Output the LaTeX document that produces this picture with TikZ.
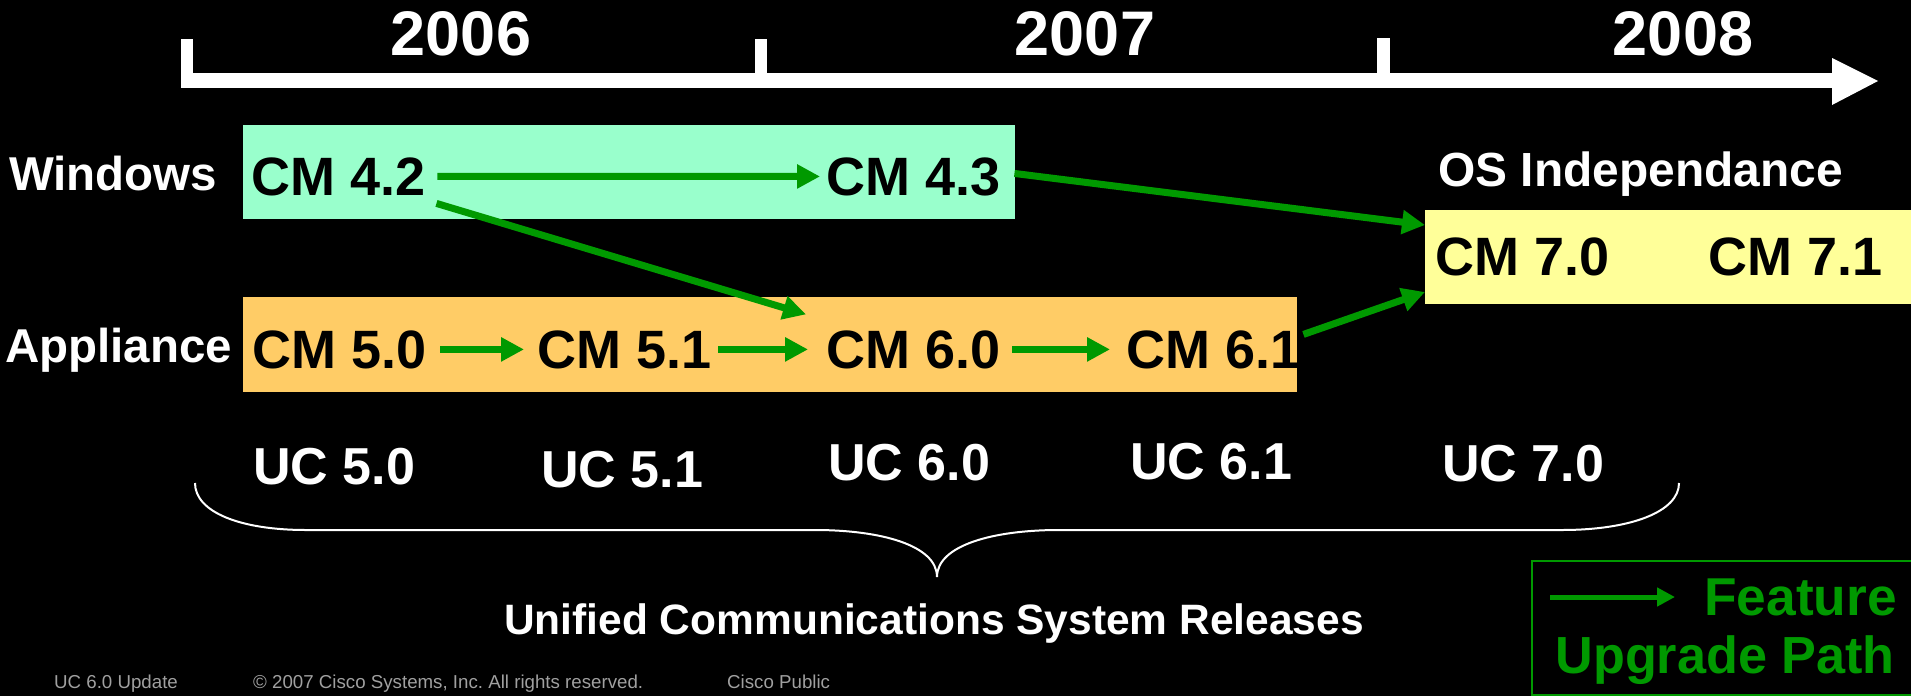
\documentclass[tikz,border=0pt]{standalone}
\usepackage{fontspec}
\setmainfont{Liberation Sans}
\usetikzlibrary{arrows.meta}
\definecolor{fgreen}{HTML}{009900}
\definecolor{winteal}{HTML}{99FFCC}
\definecolor{appor}{HTML}{FFCC66}
\definecolor{osyel}{HTML}{FFFF99}
\definecolor{footgray}{HTML}{A0A0A0}
\newcommand{\myfs}[1]{\fontsize{#1}{#1}\selectfont}
\tikzset{
  cmtext/.style={font=\myfs{54}\bfseries, text=black, inner sep=0pt, anchor=base west},
  uctext/.style={font=\myfs{52}\bfseries, text=white, inner sep=0pt, anchor=base west},
  yeartext/.style={font=\myfs{63}\bfseries, text=white, inner sep=0pt, anchor=base},
  rowlabel/.style={font=\myfs{47.5}\bfseries, text=white, inner sep=0pt, anchor=base west},
  footer/.style={font=\myfs{18.7}, text=footgray, inner sep=0pt, anchor=base west},
  band/.style={inner sep=0pt, outer sep=0pt, anchor=north west, draw=none},
  flow/.style={draw=fgreen, line width=7pt, -{Triangle[length=23pt,width=23pt]}},
  legflow/.style={draw=fgreen, line width=5pt, -{Triangle[length=18pt,width=18pt]}},
  legtext/.style={font=\myfs{53.3}\bfseries, text=fgreen, inner sep=0pt, anchor=base east},
  axisfill/.style={fill=white, draw=none},
  bracestyle/.style={draw=white, line width=2pt},
}
\begin{document}
\begin{tikzpicture}[x=1pt,y=-1pt]
  \useasboundingbox (0,0) rectangle (1911,696);
  \fill[black] (0,0) rectangle (1911,696);

  % timeline
  \fill[axisfill] (181,73) rectangle (1832,88);
  \fill[axisfill] (181,39) rectangle (193,88);
  \fill[axisfill] (755,39) rectangle (767,73);
  \fill[axisfill] (1377,38) rectangle (1390,73);
  \fill[axisfill] (1832,58) -- (1878,81) -- (1832,105) -- cycle;

  \node[yeartext] (y6) at (461,55) {2006};
  \node[yeartext] (y7) at (1085,55) {2007};
  \node[yeartext] (y8) at (1683,55) {2008};

  % bands
  \node[band, fill=winteal, minimum width=772pt, minimum height=94pt] (winbox) at (243,125) {};
  \node[band, fill=appor, minimum width=1054pt, minimum height=95pt] (appbox) at (243,297) {};
  \node[band, fill=osyel, minimum width=490pt, minimum height=94pt] (c7box) at (1425,210) {};

  % row labels
  \node[rowlabel] (win) at (9,190) {Windows};
  \node[rowlabel] (app) at (5,362) {Appliance};
  \node[font=\myfs{47.9}\bfseries, text=white, inner sep=0pt, anchor=base west] (osi) at (1438,186) {OS Independance};

  % CM versions
  \node[cmtext] (c42) at (251,195) {CM 4.2};
  \node[cmtext] (c43) at (826,195) {CM 4.3};
  \node[cmtext] (c50) at (252,368) {CM 5.0};
  \node[cmtext] (c51) at (537,368) {CM 5.1};
  \node[cmtext] (c60) at (826,368) {CM 6.0};
  \node[cmtext] (c61) at (1126,368) {CM 6.1};
  \node[cmtext] (c70) at (1435,275) {CM 7.0};
  \node[cmtext] (c71) at (1708,275) {CM 7.1};

  % upgrade arrows
  \draw[flow] ([shift={(12,0)}]c42.east) -- ([shift={(-6,0)}]c43.west);
  \draw[flow] ([shift={(11,27)}]c42.east) -- ([shift={(-20,-35)}]c60.west);
  \draw[flow] ([shift={(14,0)}]c50.east) -- ([shift={(-13,0)}]c51.west);
  \draw[flow] ([shift={(7,0)}]c51.east) -- ([shift={(-18,0)}]c60.west);
  \draw[flow] ([shift={(12,0)}]c60.east) -- ([shift={(-16,0)}]c61.west);
  \draw[flow] ([shift={(14,-3)}]c43.east) -- ([shift={(0,-32)}]c7box.west);
  \draw[flow] ([shift={(3,-15)}]c61.east) -- ([shift={(0,35)}]c7box.west);

  % UC releases
  \node[uctext] (u50) at (253,484) {UC 5.0};
  \node[uctext] (u51) at (541,487) {UC 5.1};
  \node[uctext] (u60) at (828,480) {UC 6.0};
  \node[uctext] (u61) at (1130,479) {UC 6.1};
  \node[uctext] (u70) at (1442,481) {UC 7.0};

  % brace
  \draw[bracestyle] (195,483) .. controls (195,512) and (240,530) .. (306,530)
    -- (815,530) .. controls (880,530) and (937,545) .. (937,577)
    .. controls (937,545) and (994,530) .. (1059,530)
    -- (1562,530) .. controls (1630,530) and (1679,512) .. (1679,483);

  \node[font=\myfs{42.5}\bfseries, text=white, inner sep=0pt, anchor=base] (ucsr) at (934,634) {Unified Communications System Releases};

  % legend
  \draw[draw=fgreen, line width=2pt] (1532,561) rectangle (1920,695);
  \coordinate (legA) at (1550,597);
  \coordinate (legB) at (1675,597);
  \draw[legflow] (legA) -- (legB);
  \node[legtext] (feat) at (1897,615) {Feature};
  \node[legtext, font=\myfs{52.2}\bfseries] (upg) at (1895,673) {Upgrade Path};

  % footer
  \node[footer] (f1) at (54,688) {UC 6.0 Update};
  \node[footer] (f2) at (253,688) {© 2007 Cisco Systems, Inc.\ All rights reserved.};
  \node[footer] (f3) at (727,688) {Cisco Public};
\end{tikzpicture}
\end{document}
